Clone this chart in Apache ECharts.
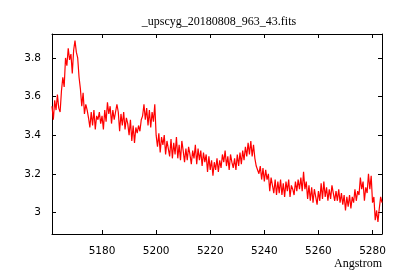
<!DOCTYPE html>
<html><head><meta charset="utf-8">
<script src="https://cdn.jsdelivr.net/npm/echarts@6/dist/echarts.min.js"></script>
<style>html,body{margin:0;padding:0;background:#fff}#c{width:400px;height:280px}</style>
</head><body><div id="c"></div>
<script>
const titleText = "_upscyg_20180808_963_43.fits";
const xLabel = "Angstrom";
const xTicks = [5180, 5200, 5220, 5240, 5260, 5280];
const yTicks = [3, 3.2, 3.4, 3.6, 3.8];
const wavelength = [
5161.5,5162,5162.5,5163,5163.5,5164,5164.5,5165,5165.5,5166,
5166.5,5167,5167.5,5168,5168.5,5169,5169.5,5170,5170.5,5171,
5171.5,5172,5172.5,5173,5173.5,5174,5174.5,5175,5175.5,5176,
5176.5,5177,5177.5,5178,5178.5,5179,5179.5,5180,5180.5,5181,
5181.5,5182,5182.5,5183,5183.5,5184,5184.5,5185,5185.5,5186,
5186.5,5187,5187.5,5188,5188.5,5189,5189.5,5190,5190.5,5191,
5191.5,5192,5192.5,5193,5193.5,5194,5194.5,5195,5195.5,5196,
5196.5,5197,5197.5,5198,5198.5,5199,5199.5,5200,5200.5,5201,
5201.5,5202,5202.5,5203,5203.5,5204,5204.5,5205,5205.5,5206,
5206.5,5207,5207.5,5208,5208.5,5209,5209.5,5210,5210.5,5211,
5211.5,5212,5212.5,5213,5213.5,5214,5214.5,5215,5215.5,5216,
5216.5,5217,5217.5,5218,5218.5,5219,5219.5,5220,5220.5,5221,
5221.5,5222,5222.5,5223,5223.5,5224,5224.5,5225,5225.5,5226,
5226.5,5227,5227.5,5228,5228.5,5229,5229.5,5230,5230.5,5231,
5231.5,5232,5232.5,5233,5233.5,5234,5234.5,5235,5235.5,5236,
5236.5,5237,5237.5,5238,5238.5,5239,5239.5,5240,5240.5,5241,
5241.5,5242,5242.5,5243,5243.5,5244,5244.5,5245,5245.5,5246,
5246.5,5247,5247.5,5248,5248.5,5249,5249.5,5250,5250.5,5251,
5251.5,5252,5252.5,5253,5253.5,5254,5254.5,5255,5255.5,5256,
5256.5,5257,5257.5,5258,5258.5,5259,5259.5,5260,5260.5,5261,
5261.5,5262,5262.5,5263,5263.5,5264,5264.5,5265,5265.5,5266,
5266.5,5267,5267.5,5268,5268.5,5269,5269.5,5270,5270.5,5271,
5271.5,5272,5272.5,5273,5273.5,5274,5274.5,5275,5275.5,5276,
5276.5,5277,5277.5,5278,5278.5,5279,5279.5,5280,5280.5,5281,
5281.5,5282,5282.5,5283,5283.5
];
const flux = [
3.55,3.48,3.58,3.53,3.61,3.54,3.52,3.63,3.70,3.65,
3.80,3.76,3.85,3.79,3.82,3.72,3.84,3.89,3.83,3.80,
3.70,3.64,3.55,3.62,3.51,3.56,3.53,3.49,3.44,3.52,
3.45,3.53,3.43,3.50,3.48,3.52,3.46,3.50,3.43,3.53,
3.47,3.57,3.51,3.55,3.46,3.53,3.48,3.49,3.56,3.52,
3.42,3.51,3.45,3.52,3.43,3.49,3.46,3.40,3.48,3.37,
3.45,3.36,3.44,3.41,3.45,3.42,3.48,3.50,3.56,3.48,
3.54,3.45,3.53,3.44,3.52,3.47,3.56,3.40,3.34,3.41,
3.31,3.39,3.35,3.40,3.30,3.37,3.33,3.29,3.38,3.28,
3.36,3.30,3.39,3.28,3.35,3.27,3.37,3.32,3.26,3.33,
3.27,3.34,3.30,3.25,3.32,3.28,3.35,3.25,3.33,3.27,
3.32,3.24,3.31,3.26,3.30,3.21,3.29,3.22,3.27,3.19,
3.26,3.22,3.28,3.21,3.27,3.23,3.30,3.26,3.32,3.24,
3.29,3.22,3.30,3.26,3.23,3.28,3.22,3.30,3.24,3.31,
3.25,3.32,3.27,3.34,3.29,3.36,3.30,3.37,3.29,3.35,
3.28,3.24,3.25,3.20,3.24,3.17,3.23,3.16,3.22,3.17,
3.20,3.11,3.18,3.14,3.10,3.17,3.09,3.16,3.10,3.17,
3.09,3.15,3.08,3.16,3.11,3.17,3.08,3.14,3.12,3.09,
3.16,3.11,3.17,3.12,3.18,3.11,3.21,3.12,3.16,3.07,
3.14,3.06,3.13,3.05,3.12,3.08,3.04,3.11,3.06,3.15,
3.07,3.16,3.08,3.13,3.06,3.12,3.07,3.14,3.10,3.06,
3.11,3.06,3.12,3.05,3.10,3.04,3.09,3.01,3.08,3.03,
3.09,3.02,3.08,3.05,3.12,3.06,3.11,3.09,3.18,3.12,
3.16,3.06,3.13,3.10,3.20,3.12,3.19,3.05,3.08,2.96,
3.01,2.95,3.02,3.08,3.05
];
const xMin = 5161.5, xMax = 5283.5, yMin = 2.888, yMax = 3.924;

const seriesData = wavelength.map((w, i) => [w, flux[i]]);
const chart = echarts.init(document.getElementById('c'), null, {renderer: 'canvas'});
const lineStyle = {color: '#000', width: 1};
const labelFont = {color: '#000', fontFamily: 'DejaVu Sans', fontSize: 10.5};
chart.setOption({
  animation: false,
  backgroundColor: '#fff',
  title: {text: titleText, left: 214, top: 11, textAlign: 'center',
    textStyle: {fontFamily: 'Liberation Serif', fontSize: 12, fontWeight: 'normal', color: '#000'}},
  grid: {left: 52, right: 18, top: 34, bottom: 46},
  xAxis: [
    {type: 'value', min: xMin, max: xMax, position: 'bottom',
     axisLine: {show: true, lineStyle}, splitLine: {show: false},
     axisTick: {show: true, inside: true, length: 4, customValues: xTicks, lineStyle},
     axisLabel: Object.assign({customValues: xTicks, margin: 12, formatter: v => String(Math.round(v))}, labelFont),
     name: xLabel, nameLocation: 'end', nameGap: 0,
     nameTextStyle: {fontFamily: 'Liberation Serif', fontSize: 12, color: '#000',
       align: 'right', verticalAlign: 'top', padding: [24, 0, 0, 0]}},
    {type: 'value', min: xMin, max: xMax, position: 'top',
     axisLine: {show: true, lineStyle}, splitLine: {show: false},
     axisTick: {show: true, inside: true, length: 4, customValues: xTicks, lineStyle},
     axisLabel: {show: false}}
  ],
  yAxis: [
    {type: 'value', min: yMin, max: yMax, position: 'left',
     axisLine: {show: true, lineStyle}, splitLine: {show: false},
     axisTick: {show: true, inside: true, length: 4, customValues: yTicks, lineStyle},
     axisLabel: Object.assign({customValues: yTicks, margin: 11,
       formatter: v => String(+v.toFixed(1))}, labelFont)},
    {type: 'value', min: yMin, max: yMax, position: 'right',
     axisLine: {show: true, lineStyle}, splitLine: {show: false},
     axisTick: {show: true, inside: true, length: 4, customValues: yTicks, lineStyle},
     axisLabel: {show: false}}
  ],
  series: [{
    type: 'line', data: seriesData, showSymbol: false, symbol: 'none',
    xAxisIndex: 0, yAxisIndex: 0,
    lineStyle: {color: '#ff0000', width: 1.2}, clip: true
  }]
});
</script></body></html>
